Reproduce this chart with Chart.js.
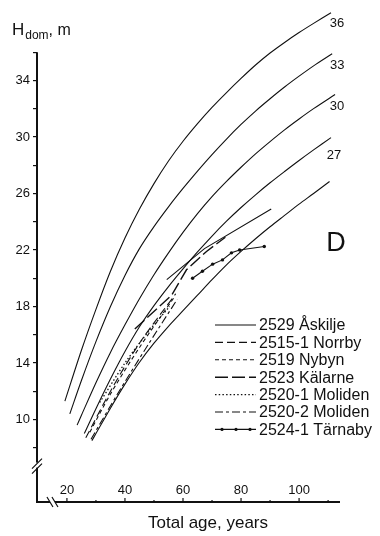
<!DOCTYPE html>
<html>
<head>
<meta charset="utf-8">
<script src="https://cdn.jsdelivr.net/npm/chart.js@4.4.1/dist/chart.umd.min.js"></script>
<style>
  html, body { margin: 0; padding: 0; background: #fff; }
  #wrap { width: 380px; height: 536px; }
</style>
</head>
<body>
<div id="wrap"><canvas id="chart" width="380" height="536"></canvas></div>
<script>
// site index curves: total age (years) / dominant height (m)
const si36Age = [19.3, 25, 30, 35, 40, 45, 50, 55, 60, 65, 70, 75, 80, 85, 90, 95, 100, 105, 111];
const si36H   = [11.3, 14.9, 17.8, 20.5, 22.85, 24.9, 26.7, 28.3, 29.7, 30.95, 32.1, 33.15, 34.15, 35.1, 35.95, 36.7, 37.4, 38.05, 38.8];
const si33Age = [21, 25, 30, 35, 40, 45, 50, 55, 60, 65, 70, 75, 80, 85, 90, 95, 100, 105, 111.4];
const si33H   = [10.4, 12.76, 15.51, 18.0, 20.2, 22.1, 23.66, 25.06, 26.36, 27.59, 28.76, 29.86, 30.89, 31.84, 32.71, 33.54, 34.31, 35.04, 35.9];
const si30Age = [23.5, 25, 30, 35, 40, 45, 50, 55, 60, 65, 70, 75, 80, 85, 90, 95, 100, 105, 112.4];
const si30H   = [9.6, 10.3, 12.6, 14.75, 16.7, 18.55, 20.25, 21.8, 23.25, 24.58, 25.78, 26.86, 27.86, 28.81, 29.68, 30.51, 31.28, 32.01, 33.01];
const si27Age = [26, 30, 35, 40, 45, 50, 55, 60, 65, 70, 75, 80, 85, 90, 95, 100, 105, 111];
const si27H   = [9.0, 10.76, 12.86, 14.81, 16.56, 18.06, 19.41, 20.66, 21.86, 22.99, 24.04, 25.01, 25.91, 26.76, 27.56, 28.34, 29.09, 29.96];
const si24Age = [28.6, 30, 35, 40, 45, 50, 55, 60, 65, 70, 75, 80, 85, 90, 95, 100, 105, 110.5];
const si24H   = [8.5, 9.0, 10.8, 12.5, 14.05, 15.4, 16.6, 17.7, 18.8, 19.9, 20.95, 21.9, 22.8, 23.65, 24.45, 25.25, 26.0, 26.85];
const siLabels = ['36', '33', '30', '27', ''];

// observed stands
const standNames = ['2529 Åskilje', '2515-1 Norrby', '2519 Nybyn', '2523 Kälarne',
                    '2520-1 Moliden', '2520-2 Moliden', '2524-1 Tärnaby'];
const askiljeAge = [54.4, 67.4, 90.4];
const askiljeH   = [19.9, 22.1, 24.9];
const norrbyAge  = [26.5, 35, 45, 57.5];
const norrbyH    = [8.7, 12.0, 15.4, 18.9];
const nybynAge   = [27.9, 35, 45, 56.8];
const nybynH     = [9.1, 11.8, 15.1, 18.6];
const kalarneAge = [43.4, 56.1, 61.2, 68.1, 74.6];
const kalarneH   = [16.4, 18.8, 20.6, 21.9, 22.9];
const moliden1Age = [31.3, 40, 48, 55.4];
const moliden1H   = [11.2, 14.0, 16.2, 18.0];
const moliden2Age = [28.3, 38, 48, 58];
const moliden2H   = [8.6, 12.0, 15.3, 18.5];
const tarnabyAge = [63.3, 66.7, 70.2, 73.6, 76.7, 79.5, 88.0];
const tarnabyH   = [20.0, 20.5, 21.0, 21.3, 21.8, 22.0, 22.25];

// axis ticks
const xTickLabels = [20, 40, 60, 80, 100];
const xMinorTicks = [30, 50, 70, 90, 110];
const yTickValues = [8, 10, 12, 14, 16, 18, 20, 22, 24, 26, 28, 30, 32, 34, 36];
const yTickLabels = [10, 14, 18, 22, 26, 30, 34];

const ink = '#111';
const font = '"Liberation Sans", Arial, Helvetica, sans-serif';

function pts(ages, hs) {
  return ages.map((a, i) => ({ x: a, y: hs[i] }));
}

const siDatasets = [
  [si36Age, si36H], [si33Age, si33H], [si30Age, si30H], [si27Age, si27H], [si24Age, si24H]
].map((s, i) => ({
  label: 'SI ' + (siLabels[i] || '24'),
  data: pts(s[0], s[1]),
  borderColor: ink,
  borderWidth: 1.1,
  pointRadius: 0,
  showLine: true,
  tension: 0.3,
  siLabel: siLabels[i]
}));

const standData = [
  [askiljeAge, askiljeH, [], 1.1, 0],
  [norrbyAge, norrbyH, [8, 4], 1.1, 0.3],
  [nybynAge, nybynH, [4, 3], 1.1, 0.3],
  [kalarneAge, kalarneH, [13, 4], 1.4, 0],
  [moliden1Age, moliden1H, [1.5, 2.2], 1.3, 0.3],
  [moliden2Age, moliden2H, [8, 3, 3, 3], 1.1, 0.3],
  [tarnabyAge, tarnabyH, [], 1.1, 0]
];
const standDatasets = standData.map((s, i) => ({
  label: standNames[i],
  data: pts(s[0], s[1]),
  borderColor: ink,
  backgroundColor: ink,
  borderWidth: s[3],
  borderDash: s[2],
  tension: s[4],
  pointRadius: i === 6 ? 1.7 : 0,
  pointBackgroundColor: ink,
  pointBorderWidth: 0,
  showLine: true,
  stand: true
}));

const paper = {
  id: 'paper',
  afterDraw(chart) {
    const { ctx, chartArea: a, scales: { x, y } } = chart;
    ctx.save();
    ctx.strokeStyle = ink;
    ctx.fillStyle = ink;

    // axis lines
    ctx.lineWidth = 2;
    ctx.beginPath();
    ctx.moveTo(a.left, y.getPixelForValue(36));
    ctx.lineTo(a.left, a.bottom);
    ctx.lineTo(a.right, a.bottom);
    ctx.stroke();

    // x ticks (inside) and labels
    ctx.lineWidth = 1.2;
    xTickLabels.forEach(v => {
      const px = x.getPixelForValue(v);
      ctx.beginPath(); ctx.moveTo(px, a.bottom); ctx.lineTo(px, a.bottom - 4); ctx.stroke();
    });
    xMinorTicks.forEach(v => {
      const px = x.getPixelForValue(v);
      ctx.beginPath(); ctx.moveTo(px, a.bottom); ctx.lineTo(px, a.bottom - 2); ctx.stroke();
    });
    ctx.font = '13px ' + font;
    ctx.textAlign = 'center';
    ctx.textBaseline = 'middle';
    xTickLabels.forEach(v => ctx.fillText(String(v), x.getPixelForValue(v), a.bottom - 12));

    // axis breaks
    const by = y.getPixelForValue(6.8);
    ctx.fillStyle = '#fff';
    ctx.fillRect(a.left - 2, by - 2, 4, 5);
    const bx = x.getPixelForValue(14.5);
    ctx.fillRect(bx - 1, a.bottom - 2, 5, 4);
    ctx.fillStyle = ink;
    ctx.lineWidth = 1.2;
    ctx.beginPath();
    ctx.moveTo(a.left - 5, by + 4); ctx.lineTo(a.left + 5, by - 6);
    ctx.moveTo(a.left - 5, by + 9); ctx.lineTo(a.left + 5, by - 1);
    ctx.moveTo(bx - 4, a.bottom - 5); ctx.lineTo(bx + 2, a.bottom + 5);
    ctx.moveTo(bx + 1, a.bottom - 5); ctx.lineTo(bx + 7, a.bottom + 5);
    ctx.stroke();

    // axis titles
    ctx.textAlign = 'left';
    ctx.textBaseline = 'alphabetic';
    ctx.font = '17px ' + font;
    ctx.fillText('H', 12, 35);
    const hw = ctx.measureText('H').width;
    ctx.font = '12px ' + font;
    ctx.fillText('dom', 12 + hw + 1, 39);
    const dw = ctx.measureText('dom').width;
    ctx.font = '16px ' + font;
    ctx.fillText(', m', 12 + hw + 1 + dw, 35);
    ctx.font = '17px ' + font;
    ctx.textAlign = 'center';
    ctx.fillText('Total age, years', 208, 528);

    // site index labels at curve ends
    const offs = [[6, 11], [5, 12], [2, 12], [3, 18]];
    ctx.font = '13px ' + font;
    ctx.textBaseline = 'middle';
    chart.data.datasets.forEach((ds, i) => {
      if (!ds.siLabel) return;
      const last = ds.data[ds.data.length - 1];
      ctx.fillText(ds.siLabel, x.getPixelForValue(last.x) + offs[i][0], y.getPixelForValue(last.y) + offs[i][1]);
    });

    // panel letter
    ctx.font = '27px ' + font;
    ctx.fillText('D', 336, 244);

    // legend
    const stands = chart.data.datasets.filter(d => d.stand);
    ctx.font = '16px ' + font;
    ctx.textAlign = 'left';
    stands.forEach((ds, i) => {
      const ry = 325 + i * 17.4;
      ctx.lineWidth = ds.borderWidth;
      ctx.setLineDash(ds.borderDash || []);
      ctx.beginPath(); ctx.moveTo(215, ry); ctx.lineTo(256, ry); ctx.stroke();
      ctx.setLineDash([]);
      if (ds.pointRadius > 0) {
        [222, 236, 250].forEach(px => {
          ctx.beginPath(); ctx.arc(px, ry, 1.6, 0, Math.PI * 2); ctx.fill();
        });
      }
      ctx.fillText(ds.label, 259, ry + 1);
    });
    ctx.restore();
  }
};

new Chart(document.getElementById('chart').getContext('2d'), {
  type: 'scatter',
  data: { datasets: siDatasets.concat(standDatasets) },
  options: {
    responsive: false,
    animation: false,
    layout: { padding: { top: 8, right: 40, left: 0, bottom: 0 } },
    plugins: { legend: { display: false }, tooltip: { enabled: false } },
    scales: {
      x: {
        type: 'linear',
        min: 9.69,
        max: 114.1,
        ticks: { display: false },
        grid: { display: false },
        border: { display: false },
        afterFit: s => { s.height = 34; }
      },
      y: {
        type: 'linear',
        min: 4.155,
        max: 38.94,
        afterBuildTicks: s => { s.ticks = yTickValues.map(v => ({ value: v })); },
        ticks: {
          color: ink,
          padding: 3,
          font: { size: 13, family: font },
          callback: v => yTickLabels.includes(v) ? String(v) : ''
        },
        grid: { drawOnChartArea: false, drawTicks: true, tickLength: 4, color: ink, lineWidth: 1.2 },
        border: { display: false },
        afterFit: s => { s.width = 37; }
      }
    }
  },
  plugins: [paper]
});
</script>
</body>
</html>
